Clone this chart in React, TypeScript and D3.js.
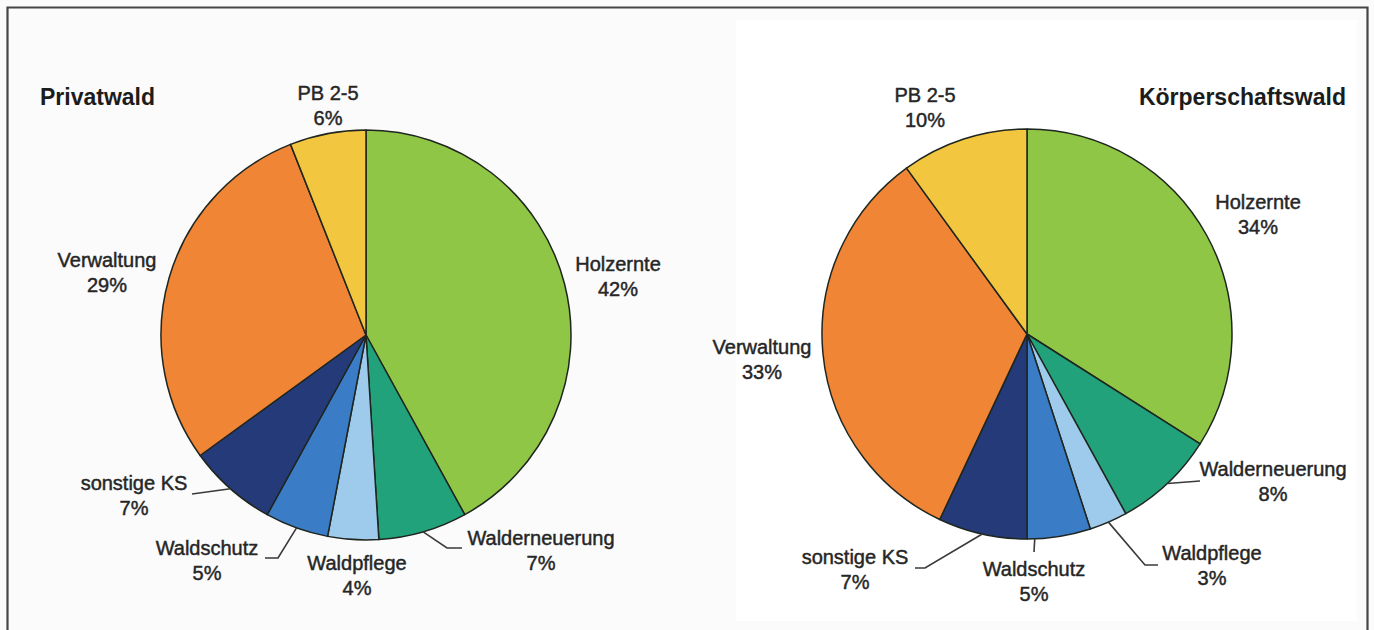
import React, { useRef, useEffect } from "react";
import * as d3 from "d3";

// Kostenstruktur, Anteile in Prozent (im Uhrzeigersinn ab 12 Uhr)
const categories = [
  "Holzernte",
  "Walderneuerung",
  "Waldpflege",
  "Waldschutz",
  "sonstige KS",
  "Verwaltung",
  "PB 2-5",
];
const privatwaldValues = [42, 7, 4, 5, 7, 29, 6];
const koerperschaftValues = [34, 8, 3, 5, 7, 33, 10];
const sliceColors = [
  "#8fc645",
  "#22a27b",
  "#9ecbeb",
  "#3b7cc6",
  "#253b79",
  "#f08535",
  "#f2c63e",
];

// Layout der beiden Kreise: Beschriftung (Mitte x, Mitte y der ersten Zeile),
// optionale Führungslinie vom Text bis zum Kreisrand
type LabelSpec = {
  x: number;
  y: number;
  leader?: [number, number][];
  at?: number;
};

const pies = [
  {
    title: "Privatwald",
    titleX: 40,
    titleAnchor: "start",
    values: privatwaldValues,
    cx: 366,
    cy: 335,
    labels: [
      { x: 618, y: 264 },
      { x: 541, y: 538, leader: [[462, 548], [447, 548]] },
      { x: 357, y: 563 },
      { x: 207, y: 548, leader: [[265, 558], [278, 558]] },
      { x: 134, y: 483, leader: [[192, 494]] },
      { x: 107, y: 260 },
      { x: 328, y: 93 },
    ] as LabelSpec[],
  },
  {
    title: "Körperschaftswald",
    titleX: 1346,
    titleAnchor: "end",
    values: koerperschaftValues,
    cx: 1027,
    cy: 334,
    labels: [
      { x: 1258, y: 202 },
      { x: 1273, y: 469, leader: [[1200, 481]] },
      { x: 1212, y: 553, leader: [[1158, 565], [1145, 565]] },
      { x: 1034, y: 569, leader: [[1034, 552]], at: 0.88 },
      { x: 855, y: 557, leader: [[915, 568], [925, 568]] },
      { x: 762, y: 347 },
      { x: 925, y: 95 },
    ] as LabelSpec[],
  },
];

const width = 1374;
const height = 630;
const radius = 205;
const lineGap = 25;

const App = () => {
  const svgRef = useRef<SVGSVGElement>(null);

  useEffect(() => {
    const svg = d3.select(svgRef.current);
    svg.selectAll("*").remove();

    // Hintergrund und Rahmen
    svg.append("rect").attr("width", width).attr("height", height).attr("fill", "#fbfbfb");
    svg
      .append("rect")
      .attr("x", 736)
      .attr("y", 20)
      .attr("width", 621)
      .attr("height", 601)
      .attr("fill", "#ffffff");
    svg
      .append("path")
      .attr("d", `M7.5,${height} V7.5 H1367.5 V${height}`)
      .attr("fill", "none")
      .attr("stroke", "#454545")
      .attr("stroke-width", 2.2);

    const pieGen = d3
      .pie<number>()
      .sort(null)
      .value((d) => d);
    const arcGen = d3.arc<d3.PieArcDatum<number>>().innerRadius(0).outerRadius(radius);

    pies.forEach((p) => {
      const g = svg.append("g").attr("transform", `translate(${p.cx}, ${p.cy})`);
      const arcs = pieGen(p.values);

      g.selectAll("path")
        .data(arcs)
        .join("path")
        .attr("d", arcGen)
        .attr("fill", (d, i) => sliceColors[i])
        .attr("stroke", "#1f2620")
        .attr("stroke-width", 1.5)
        .attr("stroke-linejoin", "round");

      // Führungslinien
      arcs.forEach((a, i) => {
        const spec = p.labels[i];
        if (!spec.leader) return;
        const f = spec.at ?? 0.5;
        const ang = a.startAngle + (a.endAngle - a.startAngle) * f;
        const end: [number, number] = [
          p.cx + radius * Math.sin(ang),
          p.cy - radius * Math.cos(ang),
        ];
        svg
          .append("path")
          .attr("d", d3.line()([...spec.leader, end]))
          .attr("fill", "none")
          .attr("stroke", "#3a3a3a")
          .attr("stroke-width", 1.6);
      });

      // Beschriftung
      arcs.forEach((a, i) => {
        const spec = p.labels[i];
        const t = svg
          .append("text")
          .attr("text-anchor", "middle")
          .attr("font-family", "'Liberation Sans', Arial, sans-serif")
          .attr("font-size", 20)
          .attr("fill", "#262626")
          .attr("stroke", "#262626")
          .attr("stroke-width", 0.45);
        t.append("tspan")
          .attr("x", spec.x)
          .attr("y", spec.y)
          .attr("dy", "0.35em")
          .text(categories[i]);
        t.append("tspan")
          .attr("x", spec.x)
          .attr("y", spec.y + lineGap)
          .attr("dy", "0.35em")
          .text(`${p.values[i]}%`);
      });

      svg
        .append("text")
        .attr("x", p.titleX)
        .attr("y", 97)
        .attr("dy", "0.35em")
        .attr("text-anchor", p.titleAnchor)
        .attr("font-family", "'Liberation Sans', Arial, sans-serif")
        .attr("font-size", 23)
        .attr("font-weight", "bold")
        .attr("fill", "#1c1c1c")
        .text(p.title);
    });
  }, []);

  return (
    <div style={{ position: "fixed", left: 0, top: 0 }}>
      <svg ref={svgRef} width={width} height={height} style={{ display: "block" }}></svg>
    </div>
  );
};

export default App;
